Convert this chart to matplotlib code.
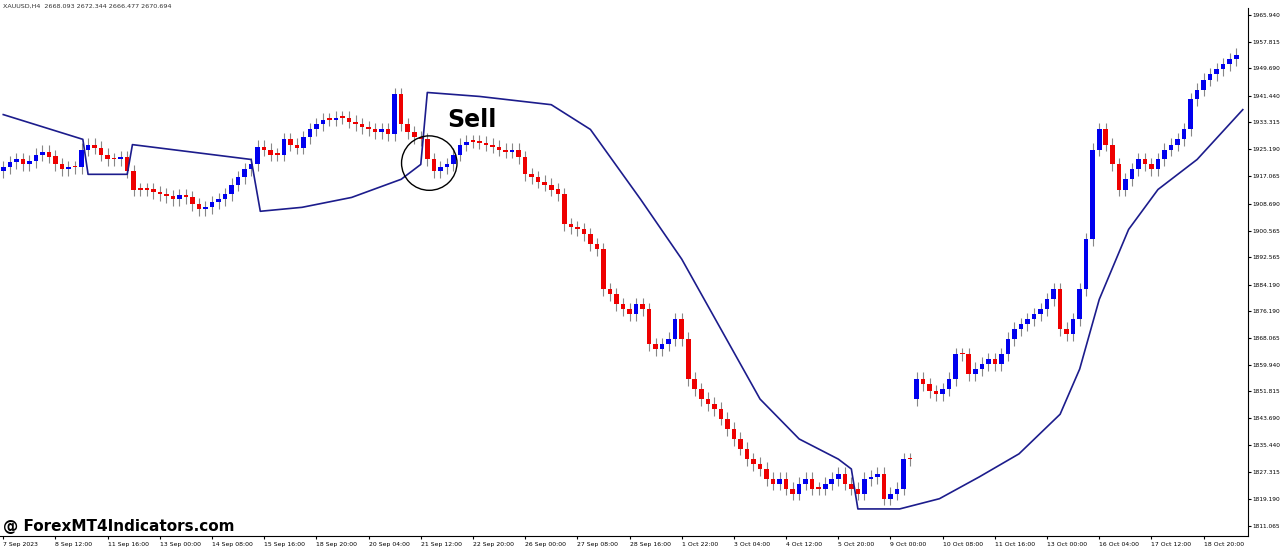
import matplotlib
matplotlib.use("Agg")
import matplotlib.pyplot as plt
from matplotlib.patches import Ellipse

closes = [1919.7,1921.2,1922.1,1920.6,1921.5,1923.6,1924.5,1923.0,1920.6,1919.1,1919.7,1919.7,
 1925.1,1926.6,1925.7,1923.6,1922.1,1922.1,1922.7,
 1918.5,1913.0,1913.0,1913.0,1912.1,1911.5,1910.9,1910.0,1911.2,1910.6,1908.5,1907.0,1907.6,1909.1,1910.0,1911.5,1914.5,1916.7,1919.1,
 1920.6,1926.0,1925.1,1923.6,1923.6,1928.2,1926.6,1925.7,1928.8,1931.2,
 1932.7,1934.2,1934.2,1934.8,1934.8,1933.6,1932.7,1931.8,1931.2,1930.3,1931.2,1929.7,1941.8,
 1932.7,1930.3,1928.8,1928.2,1922.1,1918.5,1919.7,1920.6,1923.6,1926.6,1927.5,1927.5,1927.2,1926.6,1926.0,1925.1,1924.5,1925.1,1922.7,1917.6,1916.7,1915.4,1914.5,1913.0,
 1911.5,1902.4,1901.5,1900.9,1899.4,1896.4,1894.9,1882.8,1881.3,1878.2,1876.7,1875.2,
 1878.2,1876.7,1866.1,1864.6,1866.1,1867.7,1873.7,1867.7,1855.6,1852.5,1849.5,1848.0,1846.5,1843.5,1840.4,1837.4,1834.4,1831.3,1829.8,1828.3,1825.3,1823.8,1825.3,1822.3,1820.8,1823.8,1825.3,1822.3,1822.3,1823.8,1825.3,1826.8,1823.8,1822.3,1820.8,1825.3,1825.9,1826.8,1819.3,1820.8,1822.3,1831.3,1831.3,
 1855.6,1854.0,1851.9,1851.0,1852.5,1855.6,1863.1,1863.1,1857.1,1858.6,1860.1,1861.6,1860.1,1863.1,1867.7,1870.7,1872.2,1873.7,1875.2,1876.7,1879.7,1882.8,1870.7,1869.2,1873.7,1882.8,1897.9,1925.1,1931.2,1926.6,1920.6,1913.0,1916.1,1919.1,1922.1,1920.6,1919.1,1922.1,1925.1,1926.6,1928.2,1931.2,1940.3,1943.3,1946.3,1947.9,1949.4,1950.9,1952.4,1953.9]
gap_index = 140
gap_open = 1849.5
first_open = 1918.5

ma_idx = [0,12.2,13,19,19.8,38,39.4,45.8,53.4,61,64,65,73,84,90,97.7,104,110,116,122,128,130,131,137.4,143.5,149.6,155.7,162,165,168,172.5,177,183,190]
ma_val = [1935.7,1928.2,1917.6,1917.6,1926.6,1922.1,1906.4,1907.6,1910.6,1916.1,1920.6,1942.4,1941.2,1938.7,1931.2,1910.0,1891.9,1870.7,1849.5,1837.4,1831.3,1828.3,1816.2,1816.2,1819.3,1825.9,1832.9,1844.9,1858.6,1879.7,1900.9,1913.0,1922.1,1937.2]

xlabels = ["7 Sep 2023","8 Sep 12:00","11 Sep 16:00","13 Sep 00:00","14 Sep 08:00","15 Sep 16:00","18 Sep 20:00","20 Sep 04:00","21 Sep 12:00","22 Sep 20:00","26 Sep 00:00","27 Sep 08:00","28 Sep 16:00","1 Oct 22:00","3 Oct 04:00","4 Oct 12:00","5 Oct 20:00","9 Oct 00:00","10 Oct 08:00","11 Oct 16:00","13 Oct 00:00","16 Oct 04:00","17 Oct 12:00","18 Oct 20:00"]
yticks = [1965.940,1957.815,1949.690,1941.440,1933.315,1925.190,1917.065,1908.690,1900.565,1892.565,1884.190,1876.190,1868.065,1859.940,1851.815,1843.690,1835.440,1827.315,1819.190,1811.065]

fig = plt.figure(figsize=(12.8,5.5), dpi=100)
ax = fig.add_axes([0, 14/550, 1248/1280, 528/550])
for i, c in enumerate(closes):
    o = first_open if i == 0 else (gap_open if i == gap_index else closes[i-1])
    col = "#0000ee" if c > o else "#ee0000"
    lo, hi = min(o, c), max(o, c)
    ax.vlines(i, lo-2.0, hi+2.0, color="#888888", lw=0.8, zorder=1)
    ax.bar(i, max(hi-lo, 0.4), bottom=lo, width=0.7, color=col, zorder=2)
ax.plot(ma_idx, ma_val, color="#1c1c8c", lw=1.2, zorder=3)

ax.set_xlim(-0.5, 190.8)
ax.set_ylim(1808.0, 1968.0)
ax.set_xticks([8*i for i in range(len(xlabels))])
ax.set_xticklabels(xlabels, fontsize=4.4)
ax.yaxis.tick_right()
ax.set_yticks(yticks)
ax.set_yticklabels([f"{v:.3f}" for v in yticks], fontsize=4.2)
ax.tick_params(axis="y", length=2, pad=1)
ax.tick_params(axis="x", length=2.5, pad=1.5)
for lab in ax.get_xticklabels():
    lab.set_horizontalalignment("left")
for s in ["top","left"]:
    ax.spines[s].set_visible(False)

ax.add_patch(Ellipse((65.3, 1921.0), 8.5, 16.5, fill=False, ec="black", lw=1, zorder=4))
ax.text(68, 1932, "Sell", fontsize=17, fontweight="bold", zorder=5)
fig.text(0.002, 0.993, "XAUUSD,H4  2668.093 2672.344 2666.477 2670.694", fontsize=4.6, va="top", color="#333333")
fig.text(0.002, 0.03, "@ ForexMT4Indicators.com", fontsize=11, fontweight="bold", va="bottom")
fig.savefig("out.png", dpi=100)
